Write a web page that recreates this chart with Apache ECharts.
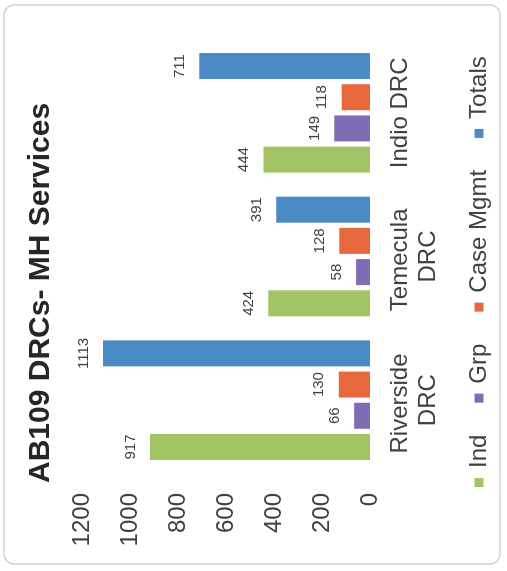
<!DOCTYPE html>
<html>
<head>
<meta charset="utf-8">
<script src="https://cdn.jsdelivr.net/npm/echarts@6/dist/echarts.min.js"></script>
<style>
  html, body { margin: 0; padding: 0; background: #ffffff; }
  #frame { position: relative; width: 507px; height: 571px; overflow: hidden; background: #ffffff; }
  #chart { position: absolute; left: 0; top: 0; width: 571px; height: 507px;
           transform-origin: 0 0; transform: translateY(571px) rotate(-90deg); }
</style>
</head>
<body>
<div id="frame"><div id="chart"></div></div>
<script>
// ---- data ----
const categories = ['Riverside DRC', 'Temecula DRC', 'Indio DRC'];
const seriesNames = ['Ind', 'Grp', 'Case Mgmt', 'Totals'];
const indValues = [917, 424, 444];
const grpValues = [66, 58, 149];
const caseMgmtValues = [130, 128, 118];
const totalsValues = [1113, 391, 711];
const valueMin = 0;
const valueMax = 1200;
const valueStep = 200;
const titleText = 'AB109 DRCs- MH Services';

// ---- styles ----
const FONT = "'Liberation Sans', Arial, sans-serif";
const colors = ['#a2c465', '#7f6db3', '#e9673c', '#4a8bc6'];
const seriesData = [indValues, grpValues, caseMgmtValues, totalsValues];

const chart = echarts.init(document.getElementById('chart'), null, { renderer: 'canvas' });
chart.setOption({
  backgroundColor: '#ffffff',
  animation: false,
  color: colors,
  title: {
    text: titleText,
    left: 88,
    top: 26,
    padding: 0,
    textStyle: { fontFamily: FONT, fontSize: 30, fontWeight: 'bold', color: '#262626' }
  },
  graphic: [{
    type: 'rect',
    silent: true,
    shape: { x: 7, y: 4, width: 559, height: 496, r: 10 },
    style: { fill: 'none', stroke: '#d2d2d2', lineWidth: 1.5 }
  }],
  legend: {
    data: seriesNames,
    left: 79,
    top: 462,
    itemWidth: 9,
    itemHeight: 9,
    itemGap: 32,
    icon: 'rect',
    textStyle: { fontFamily: FONT, fontSize: 24, color: '#404040', padding: [0, 0, 0, 5] }
  },
  grid: { left: 99, right: 41, top: 82, bottom: 137, containLabel: false },
  xAxis: {
    type: 'category',
    data: categories,
    axisLine: { show: false },
    axisTick: { show: false },
    axisLabel: {
      interval: 0,
      margin: 16,
      width: 140,
      overflow: 'break',
      lineHeight: 28,
      fontFamily: FONT,
      fontSize: 24,
      color: '#404040'
    }
  },
  yAxis: {
    type: 'value',
    min: valueMin,
    max: valueMax,
    interval: valueStep,
    axisLine: { show: false },
    axisTick: { show: false },
    splitLine: { show: false },
    axisLabel: {
      margin: 21,
      fontFamily: FONT,
      fontSize: 24,
      color: '#404040',
      formatter: (v) => String(v)
    }
  },
  series: seriesNames.map((name, i) => ({
    name: name,
    type: 'bar',
    data: seriesData[i],
    barWidth: 26,
    barGap: '20%',
    itemStyle: { color: colors[i] },
    label: {
      show: true,
      position: 'top',
      distance: 12,
      fontFamily: FONT,
      fontSize: 15,
      color: '#404040'
    }
  }))
});
</script>
</body>
</html>
